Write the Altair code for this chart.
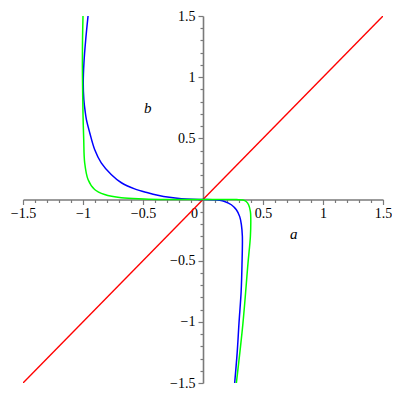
import altair as alt
import pandas as pd

# Red line b = a
red_a = [-1.5, 1.5]
red_b = [-1.5, 1.5]

# Blue curve (ordered along the curve)
blue_a = [-0.958, -0.978, -0.992, -0.998, -0.993, -0.982, -0.972, -0.944, -0.903, -0.848,
          -0.765, -0.68, -0.57, -0.46, -0.377, -0.28, -0.18, -0.09, 0.0, 0.08,
          0.139, 0.18, 0.236, 0.278, 0.306, 0.32, 0.328, 0.325, 0.318, 0.30, 0.285, 0.264]
blue_b = [1.5, 1.3, 1.12, 0.95, 0.818, 0.72, 0.655, 0.546, 0.409, 0.30,
          0.205, 0.137, 0.087, 0.055, 0.035, 0.018, 0.007, 0.002, 0.0, -0.002,
          -0.006, -0.016, -0.043, -0.084, -0.14, -0.207, -0.30, -0.53, -0.75, -1.01, -1.25, -1.5]

# Green curve
green_a = [-1.0, -1.004, -1.005, -1.003, -1.0, -0.994, -0.986, -0.958, -0.903, -0.82,
           -0.68, -0.49, -0.3, -0.1, 0.0, 0.15, 0.28, 0.333, 0.36, 0.38,
           0.395, 0.398, 0.395, 0.375, 0.333, 0.278]
green_b = [1.5, 1.3, 1.1, 0.9, 0.7, 0.49, 0.30, 0.164, 0.082, 0.041,
           0.014, 0.005, 0.001, 0.0, 0.0, 0.0, -0.001, -0.004, -0.016, -0.043,
           -0.1, -0.15, -0.30, -0.52, -1.01, -1.5]

# Axis variable labels
label_text = ["b", "a"]
label_a = [-0.46, 0.756]
label_b = [0.745, -0.286]

tick_values = [round(-1.5 + 0.1 * i, 1) for i in range(31)]

W, H = 360, 367
AXIS_GRAY = "#7a7a7a"
FONT = "Liberation Serif, Times New Roman, serif"

major_test = "abs(datum.value*2 - round(datum.value*2)) < 1e-6"

x_axis = alt.Axis(
    orient="bottom", offset=-H / 2, values=tick_values, grid=False,
    domainColor=AXIS_GRAY, domainWidth=1.6, tickColor=AXIS_GRAY, tickWidth=1.2,
    tickSize={"condition": {"test": major_test, "value": 5}, "value": 3},
    labelExpr=f"({major_test}) ? replace(format(datum.value, '~g'), '-', '\u2212') : ''",
    labelFont=FONT, labelFontSize=14, labelColor="black",
    labelPadding=2, labelFlush=False, labelOverlap=False,
    labelOffset={"condition": {"test": "datum.value == 0", "value": -9}, "value": 0},
)
y_axis = alt.Axis(
    orient="left", offset=-W / 2, values=tick_values, grid=False,
    domainColor=AXIS_GRAY, domainWidth=1.6, tickColor=AXIS_GRAY, tickWidth=1.2,
    tickSize={"condition": {"test": major_test, "value": 5}, "value": 3},
    labelExpr=f"({major_test}) && datum.value != 0 ? replace(format(datum.value, '~g'), '-', '\u2212') : ''",
    labelFont=FONT, labelFontSize=14, labelColor="black",
    labelPadding=3, labelFlush=False, labelOverlap=False,
)

xs = alt.Scale(domain=[-1.5, 1.5], nice=False, zero=False)
ys = alt.Scale(domain=[-1.5, 1.5], nice=False, zero=False)

X = alt.X("a:Q", scale=xs, axis=x_axis, title=None)
Y = alt.Y("b:Q", scale=ys, axis=y_axis, title=None)


def curve(a, b):
    return pd.DataFrame({"a": a, "b": b, "o": list(range(len(a)))})


red = alt.Chart(curve(red_a, red_b)).mark_line(color="#ff0000", strokeWidth=1.4, clip=True).encode(
    x=X, y=Y, order="o:Q")
blue = alt.Chart(curve(blue_a, blue_b)).mark_line(
    color="#0000ff", strokeWidth=1.5, interpolate="catmull-rom", clip=True).encode(
    x=X, y=Y, order="o:Q")
green = alt.Chart(curve(green_a, green_b)).mark_line(
    color="#00ff00", strokeWidth=1.5, interpolate="catmull-rom", clip=True).encode(
    x=X, y=Y, order="o:Q")
labels = alt.Chart(pd.DataFrame({"t": label_text, "a": label_a, "b": label_b})).mark_text(
    font=FONT, fontStyle="italic", fontSize=15, color="black").encode(
    x=X, y=Y, text="t:N")

chart = alt.layer(red, blue, green, labels).properties(
    width=W, height=H,
    autosize=alt.AutoSizeParams(type="none"),
    padding={"left": 15, "top": 8, "right": 9, "bottom": 9},
).configure_view(strokeWidth=0)

chart.save("out.html", embed_options={"renderer": "svg", "actions": False})
